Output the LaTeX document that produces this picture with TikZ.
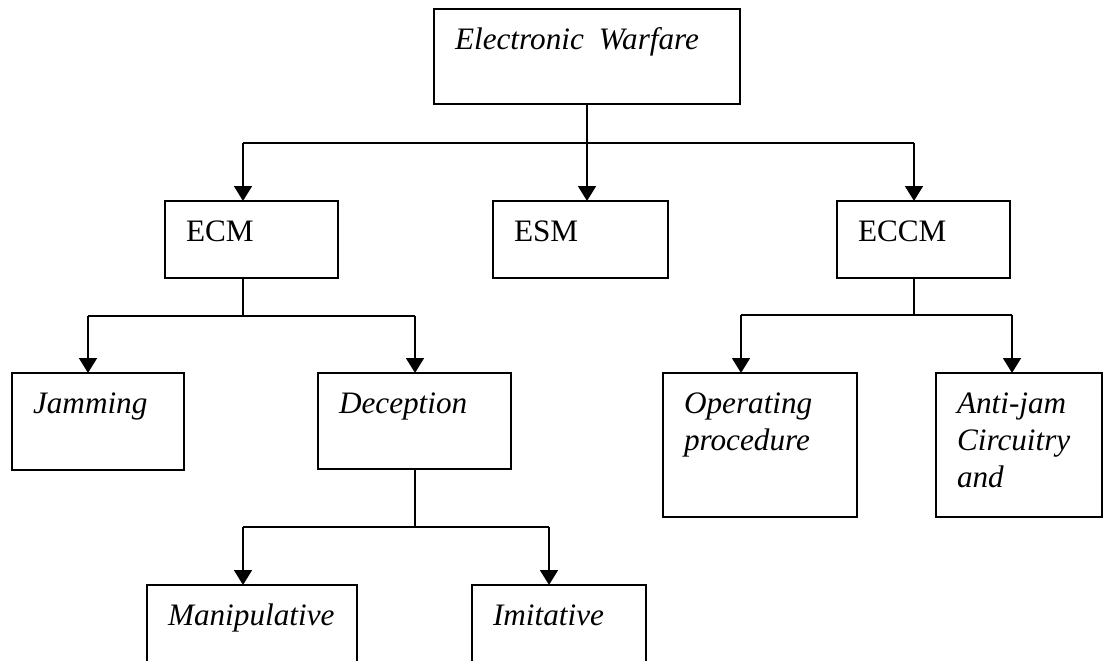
\documentclass[tikz,border=0pt]{standalone}
\usepackage{fontspec}
\setmainfont{Liberation Serif}
\usetikzlibrary{arrows.meta}

\def\u{0.025cm}
% box: style, name, x, y, width, height, text (pixel units)
\def\kasten#1#2#3#4#5#6#7{
	\pgfmathsetlengthmacro\kw{(#5-42)*\u}
	\pgfmathsetlengthmacro\kd{(#6-40)*\u}
	\node[kasten,#1,text width=\kw,text depth=\kd] (#2) at (#3,#4) {#7};
}
\def\pfeil#1#2{
	\draw[->] #1 -- #2;
}

\tikzset{
	kasten/.style={draw,line width=1.4pt,anchor=north west,outer sep=0pt,
		inner xsep=0.525cm,inner ysep=0pt,text height=1cm,align=left},
	schraeg/.style={font=\fontsize{22.2pt}{26.5pt}\selectfont\itshape},
	gerade/.style={font=\fontsize{22.2pt}{26.5pt}\selectfont}
}

\begin{document}
\begin{tikzpicture}[x=0.025cm,y=-0.025cm,>={Triangle[length=0.37cm,width=0.44cm]},line width=1.6pt]
\useasboundingbox (0,0) rectangle (1104,661);
\clip (0,0) rectangle (1104,661);
\kasten{schraeg}{ew}{434}{9}{306}{95}{Electronic\hspace{0.15em} Warfare}
\kasten{gerade}{ecm}{165}{201}{173}{77}{ECM}
\kasten{gerade}{esm}{493}{201}{175}{77}{ESM}
\kasten{gerade}{eccm}{837}{201}{173}{77}{ECCM}
\kasten{schraeg}{jam}{12}{373}{172}{97}{Jamming}
\kasten{schraeg}{dec}{318}{373}{193}{96}{Deception}
\kasten{schraeg}{op}{663}{373}{194}{144}{Operating\\procedure}
\kasten{schraeg}{aj}{936}{373}{166}{144}{Anti-jam\\Circuitry\\and}
\kasten{schraeg}{man}{147}{585}{210}{130}{Manipulative}
\kasten{schraeg}{imi}{472}{585}{174}{130}{Imitative}
\coordinate (ecmbus) at (243,143);
\coordinate (eccmbus) at (914,143);
\coordinate (jambus) at (88,316);
\coordinate (decbus) at (415,316);
\coordinate (manbus) at (243,527);
\coordinate (imibus) at (549,527);
\coordinate (opbus) at (741,315);
\coordinate (ajbus) at (1012,315);
% first level
\draw (ew.south) -- (ew.south |- ecmbus);
\draw (ecmbus) -- (eccmbus);
\pfeil{(ecmbus)}{(ecmbus |- ecm.north)}
\pfeil{(ew.south |- ecmbus)}{(ew.south |- esm.north)}
\pfeil{(eccmbus)}{(eccmbus |- eccm.north)}
% ECM
\draw (ecmbus |- ecm.south) -- (ecmbus |- jambus);
\draw (jambus) -- (decbus);
\pfeil{(jambus)}{(jambus |- jam.north)}
\pfeil{(decbus)}{(decbus |- dec.north)}
% Deception
\draw (decbus |- dec.south) -- (decbus |- manbus);
\draw (manbus) -- (imibus);
\pfeil{(manbus)}{(manbus |- man.north)}
\pfeil{(imibus)}{(imibus |- imi.north)}
% ECCM
\draw (eccmbus |- eccm.south) -- (eccmbus |- opbus);
\draw (opbus) -- (ajbus);
\pfeil{(opbus)}{(opbus |- op.north)}
\pfeil{(ajbus)}{(ajbus |- aj.north)}
\end{tikzpicture}
\end{document}
